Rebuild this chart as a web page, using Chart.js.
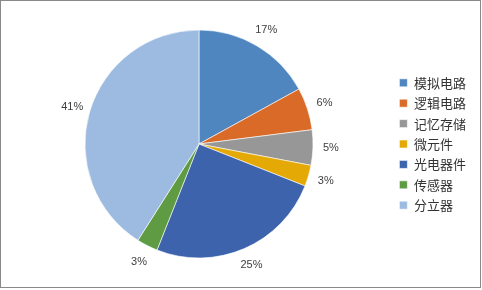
<!DOCTYPE html>
<html>
<head>
<meta charset="utf-8">
<script src="https://cdn.jsdelivr.net/npm/chart.js@4"></script>
<style>
html,body{margin:0;padding:0;background:#fff;}
canvas{display:block;}
</style>
</head>
<body>
<canvas id="c" width="482" height="290"></canvas>
<script>
const categories = ['模拟电路', '逻辑电路', '记忆存储', '微元件', '光电器件', '传感器', '分立器'];
const values = [17, 6, 5, 3, 25, 3, 41];
const percentLabels = ['17%', '6%', '5%', '3%', '25%', '3%', '41%'];
const colors = ['#4F86C0', '#D96A27', '#979797', '#E4A905', '#3C63AC', '#5F9B43', '#9DBBE0'];

const frame = {
  id: 'frame',
  beforeDraw(chart) {
    const ctx = chart.ctx;
    ctx.save();
    ctx.fillStyle = '#fff';
    ctx.fillRect(0, 0, chart.width, chart.height);
    ctx.strokeStyle = '#8a8a8a';
    ctx.lineWidth = 1;
    ctx.strokeRect(0.5, 0.5, 480, 287);
    ctx.restore();
  }
};

const sliceLabels = {
  id: 'sliceLabels',
  afterDatasetsDraw(chart) {
    const ctx = chart.ctx;
    const meta = chart.getDatasetMeta(0);
    ctx.save();
    ctx.font = '11px "Liberation Sans", Arial, sans-serif';
    ctx.fillStyle = '#404040';
    ctx.textAlign = 'center';
    ctx.textBaseline = 'middle';
    meta.data.forEach((arc, i) => {
      const p = arc.getProps(['x', 'y', 'startAngle', 'endAngle', 'outerRadius'], true);
      const mid = (p.startAngle + p.endAngle) / 2;
      const r = p.outerRadius + 18;
      ctx.fillText(percentLabels[i], p.x + Math.cos(mid) * r, p.y + Math.sin(mid) * r);
    });
    ctx.restore();
  }
};

new Chart(document.getElementById('c'), {
  type: 'pie',
  data: {
    labels: categories,
    datasets: [{
      data: values,
      backgroundColor: colors,
      borderColor: 'rgba(255,255,255,0.8)',
      borderWidth: 0.75,
      radius: 114
    }]
  },
  options: {
    responsive: false,
    devicePixelRatio: 1,
    animation: false,
    layout: { padding: { left: 6, right: 6.1, top: 0, bottom: 2 } },
    plugins: {
      tooltip: { enabled: false },
      legend: {
        position: 'right',
        align: 'center',
        labels: {
          boxWidth: 8,
          boxHeight: 8,
          padding: 7.4,
          color: '#333333',
          font: { family: '"Noto Sans CJK SC", sans-serif', size: 13 }
        }
      }
    }
  },
  plugins: [frame, sliceLabels]
});
</script>
</body>
</html>
